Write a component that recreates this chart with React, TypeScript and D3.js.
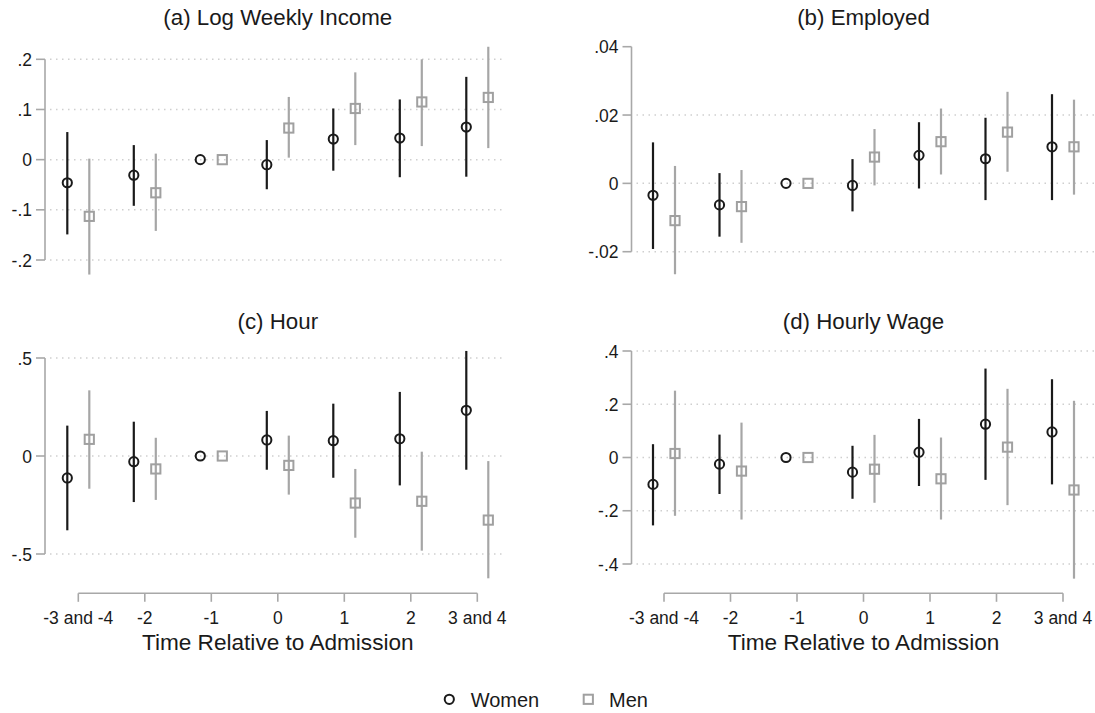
import { useEffect, useRef } from "react";
import * as d3 from "d3";

const CATEGORIES = ["-3 and -4", "-2", "-1", "0", "1", "2", "3 and 4"];

// (a) log weekly income
const incomeWomen = [-0.046, -0.031, 0, -0.010, 0.041, 0.043, 0.065];
const incomeWomenLo = [-0.149, -0.092, null, -0.059, -0.022, -0.035, -0.034];
const incomeWomenHi = [0.055, 0.029, null, 0.039, 0.102, 0.120, 0.165];
const incomeMen = [-0.113, -0.066, 0, 0.063, 0.102, 0.115, 0.124];
const incomeMenLo = [-0.229, -0.142, null, 0.004, 0.029, 0.027, 0.023];
const incomeMenHi = [0.002, 0.012, null, 0.125, 0.174, 0.200, 0.225];
const incomeTicks = [-0.2, -0.1, 0, 0.1, 0.2];
const incomeTickLabels = ["-.2", "-.1", "0", ".1", ".2"];

// (b) employed
const empWomen = [-0.0035, -0.0063, 0, -0.0006, 0.0082, 0.0072, 0.0107];
const empWomenLo = [-0.0192, -0.0156, null, -0.0082, -0.0015, -0.0049, -0.0049];
const empWomenHi = [0.0120, 0.0030, null, 0.0071, 0.0179, 0.0192, 0.0261];
const empMen = [-0.0109, -0.0068, 0, 0.0077, 0.0122, 0.0150, 0.0107];
const empMenLo = [-0.0266, -0.0174, null, -0.0006, 0.0026, 0.0034, -0.0033];
const empMenHi = [0.0051, 0.0039, null, 0.0159, 0.0219, 0.0268, 0.0245];
const empTicks = [-0.02, 0, 0.02, 0.04];
const empTickLabels = ["-.02", "0", ".02", ".04"];
const empGrid = [-0.02, 0, 0.02];

// (c) hour
const hourWomen = [-0.112, -0.029, 0, 0.082, 0.078, 0.088, 0.233];
const hourWomenLo = [-0.379, -0.235, null, -0.070, -0.111, -0.150, -0.070];
const hourWomenHi = [0.155, 0.175, null, 0.230, 0.267, 0.327, 0.536];
const hourMen = [0.085, -0.066, 0, -0.048, -0.240, -0.231, -0.327];
const hourMenLo = [-0.167, -0.224, null, -0.197, -0.417, -0.483, -0.624];
const hourMenHi = [0.335, 0.093, null, 0.104, -0.066, 0.022, -0.026];
const hourTicks = [-0.5, 0, 0.5];
const hourTickLabels = ["-.5", "0", ".5"];

// (d) hourly wage
const wageWomen = [-0.101, -0.025, 0, -0.055, 0.020, 0.125, 0.096];
const wageWomenLo = [-0.255, -0.137, null, -0.155, -0.107, -0.084, -0.101];
const wageWomenHi = [0.050, 0.086, null, 0.044, 0.145, 0.334, 0.294];
const wageMen = [0.015, -0.051, 0, -0.044, -0.080, 0.039, -0.122];
const wageMenLo = [-0.219, -0.233, null, -0.170, -0.233, -0.179, -0.455];
const wageMenHi = [0.251, 0.131, null, 0.085, 0.075, 0.258, 0.213];
const wageTicks = [-0.4, -0.2, 0, 0.2, 0.4];
const wageTickLabels = ["-.4", "-.2", "0", ".2", ".4"];

const X_TITLE = "Time Relative to Admission";
const LEGEND = ["Women", "Men"];

const FONT = "'Liberation Sans', Arial, sans-serif";
const INK = "#1a1a1a";
const GREY = "#a6a6a6";
const AXIS = "#a8a8a8";

type Series = { est: number[]; lo: (number | null)[]; hi: (number | null)[] };
type Panel = {
  title: string; women: Series; men: Series; ticks: number[]; labels: string[]; grid: number[];
  axisX: number; catRange: [number, number]; gridEnd: number; yRange: [number, number];
  titleY: number; xAxisY: number | null;
};

export default function App() {
  const ref = useRef<SVGSVGElement>(null);

  useEffect(() => {
    const el = ref.current;
    if (!el) return;
    const W = 1095, H = 713;
    const svg = d3.select(el).attr("viewBox", `0 0 ${W} ${H}`).attr("width", W).attr("height", H);
    svg.selectAll("*").remove();
    svg.append("rect").attr("width", W).attr("height", H).attr("fill", "#fff");

    const panels: Panel[] = [
      { title: "(a) Log Weekly Income", women: { est: incomeWomen, lo: incomeWomenLo, hi: incomeWomenHi },
        men: { est: incomeMen, lo: incomeMenLo, hi: incomeMenHi }, ticks: incomeTicks, labels: incomeTickLabels, grid: incomeTicks,
        axisX: 45, catRange: [78.3, 477.3], gridEnd: 505, yRange: [260, 59.3], titleY: 25, xAxisY: null },
      { title: "(b) Employed", women: { est: empWomen, lo: empWomenLo, hi: empWomenHi },
        men: { est: empMen, lo: empMenLo, hi: empMenHi }, ticks: empTicks, labels: empTickLabels, grid: empGrid,
        axisX: 631.5, catRange: [664, 1063], gridEnd: 1095, yRange: [251.7, 46.7], titleY: 25, xAxisY: null },
      { title: "(c) Hour", women: { est: hourWomen, lo: hourWomenLo, hi: hourWomenHi },
        men: { est: hourMen, lo: hourMenLo, hi: hourMenHi }, ticks: hourTicks, labels: hourTickLabels, grid: hourTicks,
        axisX: 45, catRange: [78.3, 477.3], gridEnd: 505, yRange: [554, 358], titleY: 329, xAxisY: 593.3 },
      { title: "(d) Hourly Wage", women: { est: wageWomen, lo: wageWomenLo, hi: wageWomenHi },
        men: { est: wageMen, lo: wageMenLo, hi: wageMenHi }, ticks: wageTicks, labels: wageTickLabels, grid: wageTicks,
        axisX: 631.5, catRange: [664, 1063], gridEnd: 1095, yRange: [564, 351], titleY: 329, xAxisY: 593.3 },
    ];

    const OFF = 11;

    panels.forEach((p) => {
      const g = svg.append("g");
      const x = d3.scalePoint<string>().domain(CATEGORIES).range(p.catRange);
      const ext = d3.extent(p.ticks) as [number, number];
      const y = d3.scaleLinear().domain(ext).range(p.yRange);
      const mid = (p.catRange[0] + p.catRange[1]) / 2;

      // title
      g.append("text").attr("x", mid).attr("y", p.titleY).attr("text-anchor", "middle")
        .attr("fill", INK).attr("font-size", 22.3).attr("font-family", FONT).text(p.title);

      // grid
      p.grid.forEach((t) => {
        g.append("line").attr("x1", p.axisX + 5).attr("x2", p.gridEnd).attr("y1", y(t)).attr("y2", y(t))
          .attr("stroke", "#cfcfcf").attr("stroke-width", 1.5).attr("stroke-dasharray", "1.5 4.5");
      });

      // y axis
      g.append("line").attr("x1", p.axisX).attr("x2", p.axisX).attr("y1", y(ext[0])).attr("y2", y(ext[1]))
        .attr("stroke", AXIS).attr("stroke-width", 1.6);
      p.ticks.forEach((t, i) => {
        g.append("line").attr("x1", p.axisX - 9).attr("x2", p.axisX).attr("y1", y(t)).attr("y2", y(t))
          .attr("stroke", AXIS).attr("stroke-width", 1.6);
        g.append("text").attr("x", p.axisX - 13).attr("y", y(t) + 6.5).attr("text-anchor", "end")
          .attr("fill", INK).attr("font-size", 17.5).attr("font-family", FONT).text(p.labels[i]);
      });

      // x axis
      if (p.xAxisY !== null) {
        const ay = p.xAxisY;
        g.append("line").attr("x1", p.catRange[0]).attr("x2", p.catRange[1]).attr("y1", ay).attr("y2", ay)
          .attr("stroke", AXIS).attr("stroke-width", 1.6);
        CATEGORIES.forEach((c) => {
          g.append("line").attr("x1", x(c)!).attr("x2", x(c)!).attr("y1", ay).attr("y2", ay + 8.5)
            .attr("stroke", AXIS).attr("stroke-width", 1.6);
          g.append("text").attr("x", x(c)!).attr("y", ay + 30.5).attr("text-anchor", "middle")
            .attr("fill", INK).attr("font-size", 17.5).attr("font-family", FONT).text(c);
        });
        g.append("text").attr("x", mid).attr("y", ay + 57).attr("text-anchor", "middle")
          .attr("fill", INK).attr("font-size", 22.6).attr("font-family", FONT).text(X_TITLE);
      }

      // whiskers + markers
      const drawSeries = (s: Series, dx: number, color: string, shape: "circle" | "square") => {
        CATEGORIES.forEach((c, i) => {
          const cx = x(c)! + dx;
          const lo = s.lo[i], hi = s.hi[i];
          if (lo !== null && hi !== null) {
            g.append("line").attr("x1", cx).attr("x2", cx).attr("y1", y(lo)).attr("y2", y(hi))
              .attr("stroke", color).attr("stroke-width", 2.2);
          }
        });
        CATEGORIES.forEach((c, i) => {
          const cx = x(c)! + dx, cy = y(s.est[i]);
          if (shape === "circle") {
            g.append("circle").attr("cx", cx).attr("cy", cy).attr("r", 4.6)
              .attr("fill", "none").attr("stroke", INK).attr("stroke-width", 2);
          } else {
            g.append("rect").attr("x", cx - 4.6).attr("y", cy - 4.6).attr("width", 9.2).attr("height", 9.2)
              .attr("fill", "none").attr("stroke", "#a0a0a0").attr("stroke-width", 2);
          }
        });
      };
      drawSeries(p.women, -OFF, INK, "circle");
      drawSeries(p.men, OFF, GREY, "square");
    });

    // legend
    const lg = svg.append("g");
    lg.append("circle").attr("cx", 449.3).attr("cy", 699.3).attr("r", 4.6)
      .attr("fill", "none").attr("stroke", INK).attr("stroke-width", 2);
    lg.append("text").attr("x", 470.7).attr("y", 706.7).attr("fill", INK).attr("font-size", 20)
      .attr("font-family", FONT).text(LEGEND[0]);
    lg.append("rect").attr("x", 588.3 - 4.6).attr("y", 699.3 - 4.6).attr("width", 9.2).attr("height", 9.2)
      .attr("fill", "none").attr("stroke", "#a0a0a0").attr("stroke-width", 2);
    lg.append("text").attr("x", 609).attr("y", 706.7).attr("fill", INK).attr("font-size", 20)
      .attr("font-family", FONT).text(LEGEND[1]);
  }, []);

  return (
    <svg ref={ref} role="img" aria-label="Event study estimates by gender"
      style={{ position: "absolute", left: 0, top: 0, display: "block" }} />
  );
}
